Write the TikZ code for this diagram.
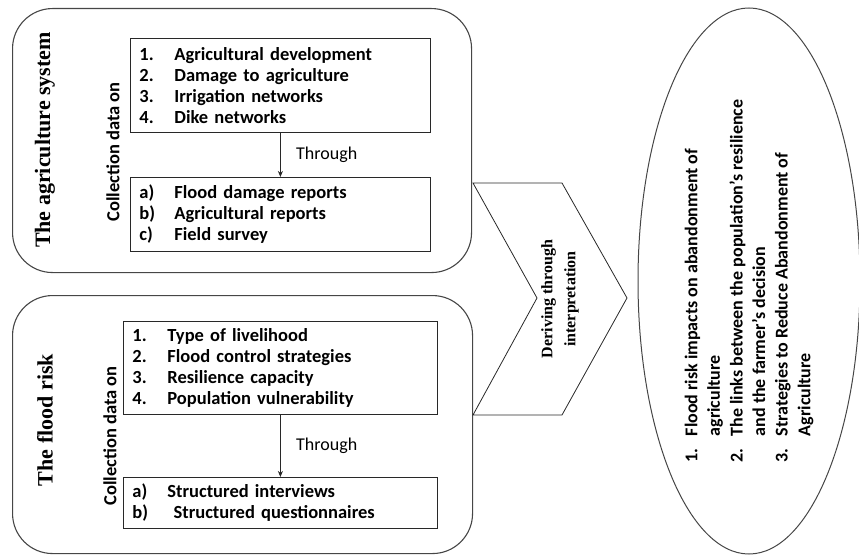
\documentclass[tikz,border=0pt]{standalone}
\usepackage{fontspec}
\setmainfont{Carlito}
\newfontfamily\headfont{Liberation Serif}
\usetikzlibrary{arrows.meta,positioning,shapes}
\definecolor{edgegray}{RGB}{70,70,70}
\definecolor{inkgray}{RGB}{40,40,40}
\tikzset{
  groupbox/.style={rectangle, draw=edgegray, line width=1.1pt, rounded corners=40pt, anchor=north west},
  listbox/.style={rectangle, draw=inkgray, line width=0.8pt, align=left, inner xsep=9pt, inner ysep=0pt, anchor=north west, font=\bfseries\fontsize{18.5}{21}\selectfont},
  sidelabel/.style={rotate=90, inner sep=0pt, font=\bfseries\fontsize{18.5}{21}\selectfont},
  headlabel/.style={rotate=90, inner sep=0pt, font=\headfont\bfseries\fontsize{22}{26}\selectfont},
  flowarrow/.style={-{Stealth[length=6pt,width=5pt]}, draw=inkgray, line width=0.8pt},
}
\newcommand{\itm}[1]{\makebox[35pt][l]{#1}}
\newcommand{\outitm}[1]{\makebox[26pt][l]{#1}}

\begin{document}
\begin{tikzpicture}[x=1pt,y=-1pt]
\useasboundingbox (0,0) rectangle (859,556);

% the agriculture system
\node[groupbox, minimum width=459pt, minimum height=264pt] (agrgroup) at (12,8) {};
\node[headlabel] (agrtitle) at (45,140) {The agriculture system};
\node[sidelabel] (agrside) at (113,152) {Collection data on};
\node[listbox, text width=282pt, minimum height=94pt] (agrlist) at (130,38)
  {\itm{1.}Agricultural development\\ \itm{2.}Damage to agriculture\\ \itm{3.}Irrigation networks\\ \itm{4.}Dike networks};
\node[listbox, text width=282pt, minimum height=74pt] (agrsrc) at (130,177)
  {\itm{a)}Flood damage reports\\ \itm{b)}Agricultural reports\\ \itm{c)}Field survey};
\draw[flowarrow] (agrlist.south) -- node[right=12pt, font=\fontsize{18}{20}\selectfont] {Through} (agrsrc.north);

% the flood risk
\node[groupbox, minimum width=460pt, minimum height=258pt] (floodgroup) at (12,295) {};
\node[headlabel] (floodtitle) at (45,420) {The flood risk};
\node[sidelabel] (floodside) at (110,436) {Collection data on};
\node[listbox, text width=296pt, minimum height=93pt] (floodlist) at (123,321)
  {\itm{1.}Type of livelihood\\ \itm{2.}Flood control strategies\\ \itm{3.}Resilience capacity\\ \itm{4.}Population vulnerability};
\node[listbox, text width=296pt, minimum height=51pt] (floodsrc) at (123,477)
  {\itm{a)}Structured interviews\\ \itm{b)}\ Structured questionnaires};
\draw[flowarrow] (floodlist.south) -- node[right=12pt, font=\fontsize{18}{20}\selectfont] {Through} (floodsrc.north);

% chevron
\draw[draw=inkgray, line width=0.8pt] (473,183) -- (562,183) -- (627,298) -- (562,415) -- (473,415) -- (537,298) -- cycle;
\node[rotate=90, align=center, font=\headfont\bfseries\fontsize{16}{23}\selectfont] (derive) at (560,299) {Deriving through\\ interpretation};

% outcomes
\node[ellipse, rotate=90, draw=edgegray, line width=1pt, minimum width=546pt, minimum height=222pt, inner sep=0pt,
      align=left, font=\bfseries\fontsize{18}{22.6}\selectfont] (outcome) at (749,281)
  {\outitm{1.}Flood risk impacts on abandonment of\\ \hspace*{26pt}agriculture\\
   \outitm{2.}The links between the population's resilience\\ \hspace*{26pt}and the farmer's decision\\
   \outitm{3.}Strategies to Reduce Abandonment of\\ \hspace*{26pt}Agriculture};
\end{tikzpicture}
\end{document}
